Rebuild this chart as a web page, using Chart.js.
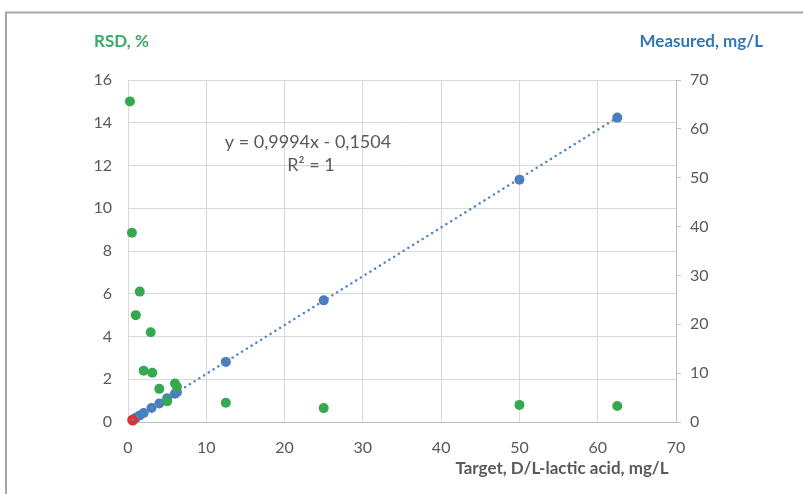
<!DOCTYPE html>
<html>
<head>
<meta charset="utf-8">
<script src="https://cdn.jsdelivr.net/npm/chart.js@4/dist/chart.umd.min.js"></script>
<style>
  html, body { margin: 0; padding: 0; background: #fff; }
  #wrap { width: 803px; height: 494px; position: relative; }
</style>
</head>
<body>
<div id="wrap"><canvas id="c" width="803" height="494"></canvas></div>
<script>
// Target concentration (mg/L) and precision (RSD, %) of replicate measurements
const rsdTarget  = [0.25, 0.5, 1, 1.5, 2, 2.9, 3.1, 4, 5, 6, 6.25, 12.5, 25, 50, 62.5];
const rsdPercent = [15.0, 8.85, 5.0, 6.1, 2.4, 4.2, 2.3, 1.55, 0.97, 1.8, 1.65, 0.9, 0.65, 0.8, 0.75];

// Measured concentration (mg/L) versus target concentration (mg/L)
const measuredTarget = [1, 1.5, 2, 3, 4, 5, 6, 6.25, 12.5, 25, 50, 62.5];
const measuredValues = [0.85, 1.35, 1.85, 2.85, 3.8, 4.85, 5.8, 6.1, 12.3, 24.9, 49.6, 62.3];

// Lowest calibration level, shown in red
const lowTarget   = [0.6];
const lowMeasured = [0.4];

// Linear fit of measured on target
const fitSlope = 0.9994;
const fitIntercept = -0.1504;
const fitRange = [0, 62.5];

// Axis ranges and steps
const xRange = [0, 70];
const xStep = 10;
const rsdRange = [0, 16];
const rsdStep = 2;
const measRange = [0, 70];
const measStep = 10;

const fmt = v => v.toString().replace('.', ',');
const fitLabel = 'y = ' + fmt(fitSlope) + 'x ' + (fitIntercept < 0 ? '- ' : '+ ') + fmt(Math.abs(fitIntercept));

const toPts = (xs, ys) => xs.map((x, i) => ({ x: x, y: ys[i] }));
const fitPts = fitRange.map(x => ({ x: x, y: fitSlope * x + fitIntercept }));

const FONT = "Lato, 'Open Sans', 'Liberation Sans', sans-serif";
const GREEN = '#36a84f';
const BLUE = '#4a7ebb';
const RED = '#e0302f';
const TICK_FONT = { family: FONT, size: 16 };

const decorations = {
  id: 'decorations',
  beforeDraw(chart) {
    const ctx = chart.ctx;
    ctx.save();
    ctx.fillStyle = '#ffffff';
    ctx.fillRect(0, 0, chart.width, chart.height);
    // frame
    ctx.strokeStyle = '#a6a6a6';
    ctx.lineWidth = 2;
    ctx.beginPath();
    ctx.moveTo(6, chart.height);
    ctx.lineTo(6, 12.5);
    ctx.lineTo(chart.width, 12.5);
    ctx.stroke();
    ctx.restore();
  },
  afterDraw(chart) {
    const ctx = chart.ctx;
    ctx.save();
    ctx.textBaseline = 'middle';
    ctx.font = 'bold 17px ' + FONT;
    ctx.fillStyle = '#3aa96b';
    ctx.textAlign = 'left';
    ctx.fillText('RSD, %', 94, 42);
    ctx.fillStyle = '#2f78b4';
    ctx.textAlign = 'right';
    ctx.fillText('Measured, mg/L', 763, 42);
    ctx.fillStyle = '#595959';
    ctx.textAlign = 'center';
    ctx.fillText('Target, D/L-lactic acid, mg/L', 562, 469);
    ctx.font = '18px ' + FONT;
    ctx.fillText(fitLabel, 308, 142);
    ctx.fillText('R\u00B2 = 1', 311, 165);
    ctx.restore();
  }
};

new Chart(document.getElementById('c'), {
  type: 'scatter',
  data: {
    datasets: [
      {
        label: 'Measured',
        data: toPts(measuredTarget, measuredValues),
        yAxisID: 'y2',
        backgroundColor: BLUE,
        borderWidth: 0,
        pointRadius: 5,
        clip: false,
        order: 4
      },
      {
        label: 'Lowest level',
        data: toPts(lowTarget, lowMeasured),
        yAxisID: 'y2',
        backgroundColor: RED,
        borderWidth: 0,
        pointRadius: 5.5,
        clip: false,
        order: 3
      },
      {
        label: 'Linear fit',
        type: 'line',
        data: fitPts,
        yAxisID: 'y2',
        borderColor: '#5089c6',
        borderWidth: 2.5,
        borderDash: [0.1, 5.5],
        borderCapStyle: 'round',
        pointRadius: 0,
        fill: false,
        order: 2
      },
      {
        label: 'RSD',
        data: toPts(rsdTarget, rsdPercent),
        yAxisID: 'y',
        backgroundColor: GREEN,
        borderWidth: 0,
        pointRadius: 5,
        clip: false,
        order: 1
      }
    ]
  },
  options: {
    responsive: false,
    devicePixelRatio: 1,
    animation: false,
    layout: { padding: { top: 80, left: 0, right: 0, bottom: 0 } },
    plugins: { legend: { display: false }, tooltip: { enabled: false } },
    scales: {
      x: {
        type: 'linear',
        min: xRange[0], max: xRange[1],
        afterFit(s) { s.height = 72; },
        ticks: { stepSize: xStep, color: '#595959', font: TICK_FONT, padding: 16 },
        grid: { color: '#d9d9d9', lineWidth: 1, drawTicks: false },
        border: { color: '#bfbfbf', width: 1 }
      },
      y: {
        type: 'linear',
        position: 'left',
        min: rsdRange[0], max: rsdRange[1],
        afterFit(s) { s.width = 128; },
        ticks: { stepSize: rsdStep, color: '#595959', font: TICK_FONT, padding: 16 },
        grid: { color: '#d9d9d9', lineWidth: 1, drawTicks: false },
        border: { color: '#d9d9d9', width: 1 }
      },
      y2: {
        type: 'linear',
        position: 'right',
        min: measRange[0], max: measRange[1],
        afterFit(s) { s.width = 127; },
        ticks: { stepSize: measStep, color: '#595959', font: TICK_FONT, padding: 9 },
        grid: { drawOnChartArea: false, color: '#bfbfbf', tickLength: 5 },
        border: { color: '#bfbfbf', width: 1 }
      }
    }
  },
  plugins: [decorations]
});
</script>
</body>
</html>
